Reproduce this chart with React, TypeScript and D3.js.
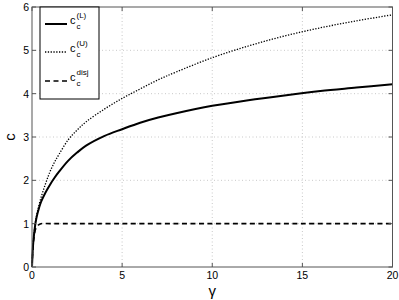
import React from "react";
import * as d3 from "d3";

const gamma = [0, 0.05, 0.1, 0.2, 0.3, 0.5, 0.75, 1, 1.25, 1.5, 2, 2.5, 3, 4, 5, 6, 7, 8, 10, 12, 14, 16, 18, 20];
const cLower = [0, 0.45, 0.7, 1.03, 1.23, 1.5, 1.72, 1.9, 2.06, 2.2, 2.45, 2.64, 2.8, 3.02, 3.18, 3.33, 3.45, 3.55, 3.72, 3.85, 3.96, 4.06, 4.14, 4.22];
const cUpper = [0, 0.47, 0.72, 1.06, 1.28, 1.6, 1.92, 2.2, 2.42, 2.6, 2.93, 3.16, 3.35, 3.64, 3.89, 4.11, 4.32, 4.5, 4.83, 5.1, 5.33, 5.52, 5.68, 5.82];
const gammaDisj = [0, 0.05, 0.1, 0.2, 0.3, 0.4, 0.5, 1, 5, 10, 15, 20];
const cDisj = [0, 0.42, 0.65, 0.88, 0.95, 0.98, 1, 1, 1, 1, 1, 1];
const xTicks = [0, 5, 10, 15, 20];
const yTicks = [0, 1, 2, 3, 4, 5, 6];
const legendLabels = ["(L)", "(U)", "disj"];

export default function App() {
  const W = 399, H = 300;
  const L = 32, R = 392.5, T = 7, B = 267;
  const x = d3.scaleLinear().domain([0, 20]).range([L, R]);
  const y = d3.scaleLinear().domain([0, 6]).range([B, T]);
  const line = d3.line<[number, number]>().x(d => x(d[0])).y(d => y(d[1])).curve(d3.curveCatmullRom.alpha(0.5));
  const pL = line(gamma.map((g, i) => [g, cLower[i]] as [number, number])) || "";
  const pU = line(gamma.map((g, i) => [g, cUpper[i]] as [number, number])) || "";
  const pD = line(gammaDisj.map((g, i) => [g, cDisj[i]] as [number, number])) || "";
  const font = "Liberation Sans, Arial, Helvetica, sans-serif";
  const styles = [
    { dash: undefined, w: 2 },
    { dash: "1.3,1.5", w: 1.3 },
    { dash: "5,3.5", w: 1.6 },
  ];
  const legY = [24, 52, 81];
  return (
    <div style={{ position: "absolute", left: 0, top: 0 }}>
      <svg width={W} height={H} style={{ display: "block", background: "#fff" }}>
        <rect x={0} y={0} width={W} height={H} fill="#fff" />
        {xTicks.filter(t => t > 0 && t < 20).map(t => (
          <line key={"gx" + t} x1={x(t)} x2={x(t)} y1={T} y2={B} stroke="#bbb" strokeWidth={0.8} strokeDasharray="1,2.5" />
        ))}
        {yTicks.filter(t => t > 0 && t < 6).map(t => (
          <line key={"gy" + t} x1={L} x2={R} y1={y(t)} y2={y(t)} stroke="#bbb" strokeWidth={0.8} strokeDasharray="1,2.5" />
        ))}
        <path d={pU} fill="none" stroke="#000" strokeWidth={styles[1].w} strokeDasharray={styles[1].dash} />
        <path d={pL} fill="none" stroke="#000" strokeWidth={styles[0].w} />
        <path d={pD} fill="none" stroke="#000" strokeWidth={styles[2].w} strokeDasharray={styles[2].dash} />
        <rect x={L} y={T} width={R - L} height={B - T} fill="none" stroke="#555" strokeWidth={1} />
        {xTicks.map(t => (
          <g key={"tx" + t}>
            <line x1={x(t)} x2={x(t)} y1={B} y2={B - 4} stroke="#555" />
            <line x1={x(t)} x2={x(t)} y1={T} y2={T + 4} stroke="#555" />
            <text x={x(t)} y={B + 12} textAnchor="middle" fontFamily={font} fontSize={10.5} fill="#000">{t}</text>
          </g>
        ))}
        {yTicks.map(t => (
          <g key={"ty" + t}>
            <line x1={L} x2={L + 4} y1={y(t)} y2={y(t)} stroke="#555" />
            <line x1={R} x2={R - 4} y1={y(t)} y2={y(t)} stroke="#555" />
            <text x={L - 3} y={y(t) + 4} textAnchor="end" fontFamily={font} fontSize={10.5} fill="#000">{t}</text>
          </g>
        ))}
        <text x={(L + R) / 2} y={296} textAnchor="middle" fontFamily={font} fontSize={15} fill="#000">γ</text>
        <text transform={`translate(15,137) rotate(-90)`} textAnchor="middle" fontFamily={font} fontSize={15} fill="#000">c</text>
        <rect x={40} y={T} width={59} height={92} fill="#fff" stroke="#000" strokeWidth={1} />
        {legendLabels.map((lab, i) => (
          <g key={"lg" + i}>
            <line x1={45} x2={67} y1={legY[i]} y2={legY[i]} stroke="#000" strokeWidth={styles[i].w} strokeDasharray={styles[i].dash} />
            <text x={70} y={legY[i]} fontFamily={font} fontSize={11} fill="#000">c</text>
            <text x={76.5} y={legY[i] - 6} fontFamily={font} fontSize={8} fill="#000">{lab}</text>
            <text x={76.5} y={legY[i] + 5} fontFamily={font} fontSize={8} fill="#000">c</text>
          </g>
        ))}
      </svg>
    </div>
  );
}
